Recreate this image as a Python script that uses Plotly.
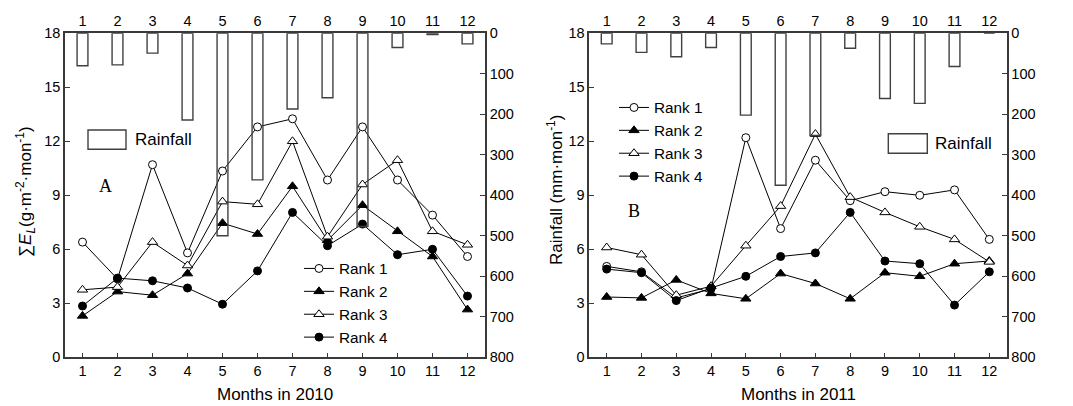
import plotly.graph_objects as go

W, H = 1073, 406

months = list(range(1, 13))
month_labels = [str(m) for m in months]
e_ticks = [0, 3, 6, 9, 12, 15, 18]
rain_ticks = [0, 100, 200, 300, 400, 500, 600, 700, 800]

rain_2010 = [80, 78, 49, 214, 500, 362, 187, 159, 477, 35, 3, 26]
rain_2011 = [26, 47, 58, 35, 202, 375, 252, 37, 161, 173, 82, 0]

rank1_2010 = [6.4, 4.35, 10.7, 5.8, 10.35, 12.8, 13.25, 9.85, 12.8, 9.85, 7.9, 5.6]
rank2_2010 = [2.3, 3.65, 3.45, 4.65, 7.45, 6.85, 9.5, 6.5, 8.45, 7.0, 5.6, 2.65]
rank3_2010 = [3.75, 3.9, 6.4, 5.1, 8.65, 8.5, 12.0, 6.7, 9.6, 10.95, 7.0, 6.25]
rank4_2010 = [2.85, 4.4, 4.25, 3.85, 2.95, 4.8, 8.05, 6.2, 7.4, 5.7, 6.0, 3.4]

rank1_2011 = [5.05, 4.75, 3.3, 3.8, 12.2, 7.15, 10.95, 8.7, 9.2, 9.0, 9.3, 6.55]
rank2_2011 = [3.35, 3.3, 4.3, 3.55, 3.25, 4.65, 4.1, 3.25, 4.7, 4.5, 5.2, 5.35]
rank3_2011 = [6.1, 5.7, 3.45, 3.95, 6.2, 8.4, 12.4, 8.9, 8.05, 7.25, 6.55, 5.3]
rank4_2011 = [4.9, 4.7, 3.15, 3.85, 4.5, 5.6, 5.8, 8.05, 5.35, 5.2, 2.9, 4.75]

series_names = ["Rank 1", "Rank 2", "Rank 3", "Rank 4"]

FONT = "Liberation Sans, Arial, sans-serif"
SERIF = "Liberation Serif, Times New Roman, serif"
AX = "#3a3a3a"


def px(p):
    return p / W


def py(p):
    return 1 - p / H


styles = [
    dict(symbol="circle", size=8, color="white"),
    dict(symbol="triangle-up", size=9, color="black"),
    dict(symbol="triangle-up", size=9, color="white"),
    dict(symbol="circle", size=8, color="black"),
]

fig = go.Figure()

panels = [
    dict(xb="x", yb="y", xt="x2", yr="y2", rain=rain_2010,
         ranks=[rank1_2010, rank2_2010, rank3_2010, rank4_2010], legend="legend"),
    dict(xb="x3", yb="y3", xt="x4", yr="y4", rain=rain_2011,
         ranks=[rank1_2011, rank2_2011, rank3_2011, rank4_2011], legend="legend2"),
]

for p in panels:
    fig.add_trace(go.Bar(
        x=months, y=p["rain"], xaxis=p["xt"], yaxis=p["yr"], width=0.31,
        marker=dict(color="rgba(0,0,0,0)", line=dict(color="#404040", width=1.4)),
        showlegend=False, name="Rainfall"))
    for name, vals, st in zip(series_names, p["ranks"], styles):
        fig.add_trace(go.Scatter(
            x=months, y=vals, xaxis=p["xb"], yaxis=p["yb"], name=name,
            mode="lines+markers", legend=p["legend"],
            line=dict(color="black", width=1),
            marker=dict(symbol=st["symbol"], size=st["size"], color=st["color"],
                        line=dict(color="black", width=1))))

dom_l = [px(65), px(485)]
dom_r = [px(589.3), px(1006.7)]
dom_y = [py(357.3), py(33.3)]

tickfont = dict(family=FONT, size=14.5, color="black")
common = dict(showline=True, linecolor=AX, linewidth=1.5, ticks="inside",
              ticklen=5, tickcolor=AX, tickwidth=1.3, showgrid=False,
              zeroline=False, tickfont=tickfont, automargin=False)

for xb, xt, yb, yr, dom in [("xaxis", "xaxis2", "yaxis", "yaxis2", dom_l),
                            ("xaxis3", "xaxis4", "yaxis3", "yaxis4", dom_r)]:
    ybn = yb.replace("axis", "")
    xbn = xb.replace("axis", "")
    fig.layout[xb] = dict(common, domain=dom, range=[0.5, 12.5], tickvals=months,
                          ticktext=month_labels, anchor=ybn)
    fig.layout[xt] = dict(common, range=[0.5, 12.5], tickvals=months,
                          ticktext=month_labels, side="top", overlaying=xbn,
                          anchor=ybn, ticks="")
    fig.layout[yb] = dict(common, domain=dom_y, range=[0, 18], tickvals=e_ticks,
                          anchor=xbn)
    fig.layout[yr] = dict(common, range=[800, 0], tickvals=rain_ticks,
                          side="right", overlaying=ybn, anchor=xbn)

leg_common = dict(font=dict(family=FONT, size=15.3, color="black"),
                  bgcolor="rgba(0,0,0,0)", xanchor="left", yanchor="top",
                  tracegroupgap=0)
fig.update_layout(
    legend=dict(leg_common, x=px(299), y=py(252)),
    legend2=dict(leg_common, x=px(614), y=py(91)),
)

# Rainfall legend boxes
shapes = []
annotations = []
for (x0, x1, y0, y1, tx, ty) in [(88, 126, 130, 149.3, 133, 139.5),
                                 (888.3, 927.3, 133.7, 153.3, 933, 143.5)]:
    shapes.append(dict(type="rect", xref="paper", yref="paper",
                       x0=px(x0), x1=px(x1), y0=py(y1), y1=py(y0),
                       line=dict(color="#404040", width=1.4), fillcolor="rgba(0,0,0,0)"))
    annotations.append(dict(text="Rainfall", xref="paper", yref="paper", x=px(tx), y=py(ty),
                            xanchor="left", yanchor="middle", showarrow=False,
                            font=dict(family=FONT, size=17, color="black")))


def label(text, x, y, font, angle=0):
    return dict(text=text, x=px(x), y=py(y), xref="paper", yref="paper",
                xanchor="center", yanchor="middle", showarrow=False,
                textangle=angle, font=font)


annotations += [
    label("A", 105, 186, dict(family=SERIF, size=18, color="black")),
    label("B", 634, 211, dict(family=SERIF, size=18, color="black")),
    label("Months in 2010", 275, 394, dict(family=FONT, size=17, color="black")),
    label("Months in 2011", 798, 394, dict(family=FONT, size=17, color="black")),
    label("∑<i>E</i><sub><i>L</i></sub>(g·m<sup>-2</sup>·mon<sup>-1</sup>)", 25, 192,
          dict(family=FONT, size=17, color="black"), -90),
    label("Rainfall (mm·mon<sup>-1</sup>)", 555, 190,
          dict(family=FONT, size=17, color="black"), -90),
]

fig.update_layout(
    width=W, height=H, autosize=False,
    margin=dict(l=0, r=0, t=0, b=0),
    paper_bgcolor="white", plot_bgcolor="white",
    shapes=shapes, annotations=annotations,
    barmode="overlay",
)

fig.write_html("out.html", config={"displayModeBar": False},
               post_script="document.body.style.margin='0px';document.body.style.padding='0px';")
